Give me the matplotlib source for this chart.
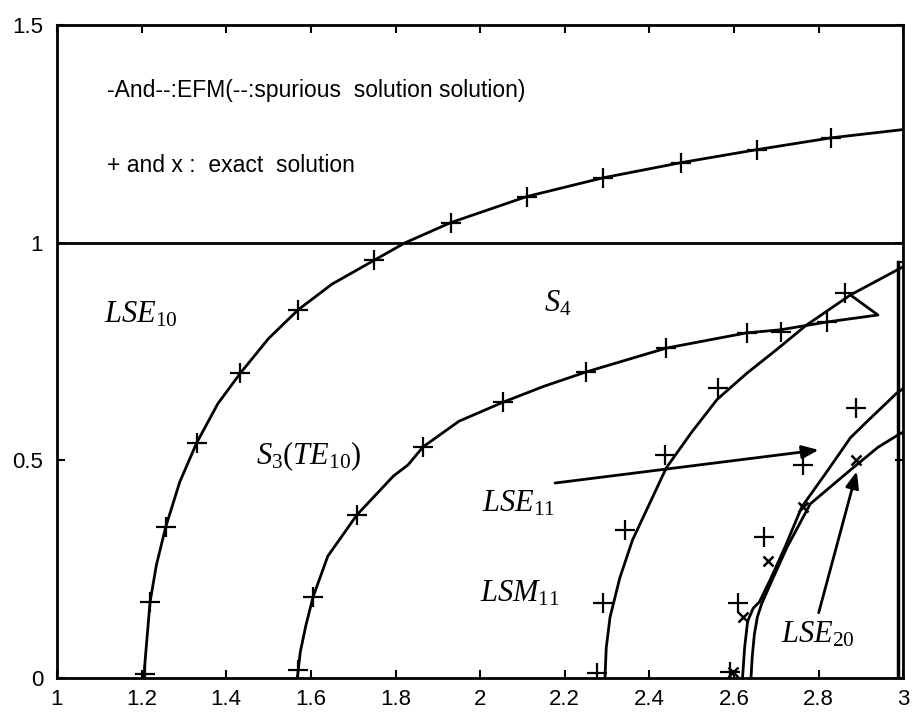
import numpy as np
import matplotlib
matplotlib.use("Agg")
import matplotlib.pyplot as plt

plt.rcParams['font.family'] = ['Liberation Sans', 'DejaVu Sans']
plt.rcParams['mathtext.fontset'] = 'custom'
plt.rcParams['mathtext.rm'] = 'Liberation Serif'
plt.rcParams['mathtext.it'] = 'Liberation Serif:italic'

# EFM curves
lse10_x = [1.205, 1.21, 1.22, 1.235, 1.257, 1.29, 1.33, 1.38, 1.433, 1.50, 1.57,
           1.65, 1.75, 1.823, 1.93, 2.11, 2.29, 2.475, 2.655, 2.83, 3.0]
lse10_y = [0.0, 0.06, 0.175, 0.26, 0.347, 0.45, 0.54, 0.63, 0.70, 0.78, 0.846,
           0.905, 0.96, 1.0, 1.046, 1.106, 1.149, 1.184, 1.214, 1.241, 1.26]

te10_x = [1.568, 1.575, 1.588, 1.605, 1.64, 1.709, 1.795, 1.83, 1.865, 1.95, 2.055,
          2.15, 2.25, 2.44, 2.63, 2.71, 2.82, 2.94, 2.875]
te10_y = [0.0, 0.06, 0.12, 0.186, 0.28, 0.375, 0.464, 0.49, 0.531, 0.59, 0.634,
          0.67, 0.703, 0.758, 0.793, 0.80, 0.818, 0.834, 0.88]

lsm11_x = [2.295, 2.298, 2.307, 2.33, 2.36, 2.40, 2.44, 2.50, 2.56, 2.63, 2.70,
           2.77, 2.875, 3.0]
lsm11_y = [0.0, 0.07, 0.14, 0.23, 0.317, 0.40, 0.483, 0.565, 0.64, 0.70, 0.754,
           0.81, 0.88, 0.945]

lse20a_x = [2.62, 2.625, 2.632, 2.645, 2.66, 2.685, 2.72, 2.76, 2.82, 2.875, 2.915, 2.985, 3.0]
lse20a_y = [0.0, 0.07, 0.13, 0.16, 0.175, 0.225, 0.30, 0.393, 0.475, 0.552, 0.59, 0.655, 0.665]
lse20b_x = [2.64, 2.643, 2.648, 2.655, 2.665, 2.69, 2.725, 2.78, 2.875, 2.94, 2.99, 3.0]
lse20b_y = [0.0, 0.05, 0.10, 0.14, 0.17, 0.225, 0.30, 0.40, 0.478, 0.53, 0.56, 0.565]

# exact solutions
plus_x = [1.208, 1.22, 1.257, 1.33, 1.433, 1.57, 1.75, 1.93, 2.11, 2.29, 2.475, 2.655, 2.83,
          1.57, 1.605, 1.709, 1.865, 2.055, 2.25, 2.44, 2.63, 2.71, 2.82,
          2.277, 2.29, 2.343, 2.437, 2.563, 2.863,
          2.887, 2.764, 2.67, 2.61, 2.59]
plus_y = [0.01, 0.175, 0.347, 0.54, 0.70, 0.846, 0.96, 1.046, 1.106, 1.149, 1.184, 1.214, 1.241,
          0.018, 0.186, 0.375, 0.531, 0.634, 0.703, 0.758, 0.793, 0.795, 0.818,
          0.011, 0.172, 0.34, 0.513, 0.667, 0.885,
          0.62, 0.49, 0.325, 0.172, 0.014]
cross_x = [2.887, 2.764, 2.68, 2.62, 2.598]
cross_y = [0.50, 0.393, 0.27, 0.14, 0.014]

fig = plt.figure(figsize=(9.13, 7.16), dpi=100)
ax = fig.add_axes([0.0624, 0.053, 0.927, 0.912])

lw = 2.0
for cx, cy in [(lse10_x, lse10_y), (te10_x, te10_y), (lsm11_x, lsm11_y),
               (lse20a_x, lse20a_y), (lse20b_x, lse20b_y)]:
    ax.plot(cx, cy, color='black', lw=lw)

ax.axhline(1.0, color='black', lw=lw)
ax.plot([2.987, 2.987], [0, 0.955], color='black', lw=2.5)
ax.plot([2.987, 3.0], [0.955, 0.955], color='black', lw=1.5)

ax.plot(plus_x, plus_y, ls='none', marker='+', ms=14, mew=1.6, color='black')
ax.plot(cross_x, cross_y, ls='none', marker='x', ms=7, mew=1.8, color='black')

arrow = dict(arrowstyle='-|>,head_length=1.0,head_width=0.4', color='black', lw=2,
             shrinkA=0, shrinkB=0)
ax.annotate('', xy=(2.80, 0.524), xytext=(2.177, 0.448), arrowprops=arrow)
ax.annotate('', xy=(2.89, 0.475), xytext=(2.80, 0.15), arrowprops=arrow)

lab = dict(fontsize=22, color='black', va='center', ha='left')
ax.text(1.11, 0.834, r'$\mathit{LSE}_{\mathrm{10}}$', **lab)
ax.text(2.15, 0.86, r'$\mathit{S}_{\mathrm{4}}$', **lab)
ax.text(1.47, 0.51, r'$\mathit{S}_{\mathrm{3}}(\mathit{TE}_{\mathrm{10}})$', **lab)
ax.text(2.005, 0.40, r'$\mathit{LSE}_{\mathrm{11}}$', **lab)
ax.text(2.0, 0.195, r'$\mathit{LSM}_{\mathrm{11}}$', **lab)
ax.text(2.71, 0.10, r'$\mathit{LSE}_{\mathrm{20}}$', **lab)

ax.text(1.118, 1.349, '-And--:EFM(--:spurious  solution solution)', fontsize=16.5,
        va='center', ha='left')
ax.text(1.118, 1.177, '+ and x :  exact  solution', fontsize=16.5, va='center', ha='left')

ax.set_xlim(1, 3)
ax.set_ylim(0, 1.5)
ax.set_xticks(np.arange(1, 3.01, 0.2))
ax.set_xticklabels(['1', '1.2', '1.4', '1.6', '1.8', '2', '2.2', '2.4', '2.6', '2.8', '3'])
ax.set_yticks([0, 0.5, 1, 1.5])
ax.set_yticklabels(['0', '0.5', '1', '1.5'])
ax.tick_params(direction='in', top=True, right=True, labelsize=16, length=6, width=1.5)
ax.tick_params(axis='x', pad=8)
ax.tick_params(axis='y', pad=10)
for s in ax.spines.values():
    s.set_linewidth(2)

fig.savefig('out.png', dpi=100)
